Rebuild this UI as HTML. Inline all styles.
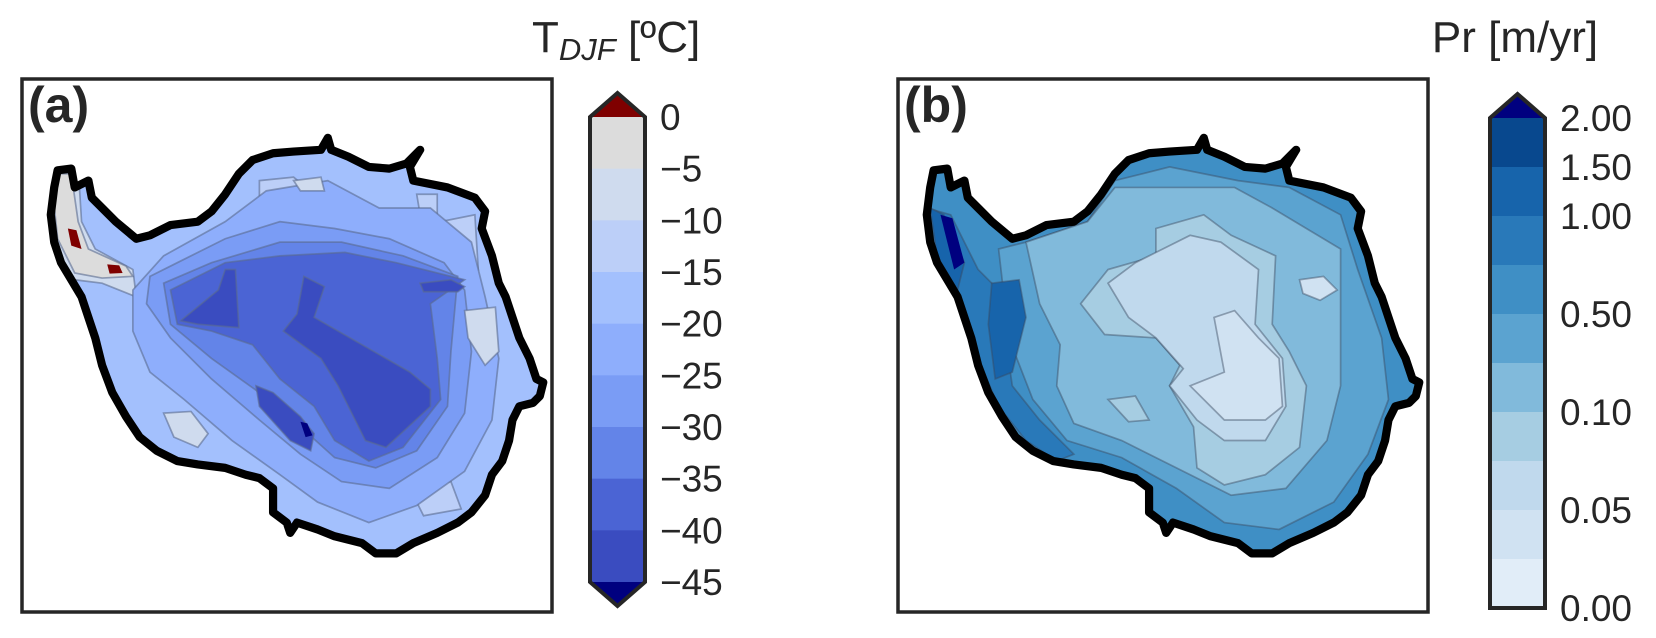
<!DOCTYPE html>
<html><head><meta charset="utf-8">
<style>
html,body{margin:0;padding:0;background:#fff;}
svg{display:block;font-family:"Liberation Sans",sans-serif;}
</style></head>
<body>
<svg id="fig" width="1656" height="638" viewBox="0 0 1656 638" xmlns="http://www.w3.org/2000/svg">
<defs>
<path id="coast" d="M110,270 L150,265 L160,320 L200,300 L210,350 L240,380 L280,420 L340,470 L380,460 L440,430 L520,420 L560,390 L600,340 L640,280 L680,240 L740,220 L800,215 L880,210 L900,175 L910,210 L960,230 L1020,260 L1080,265 L1130,250 L1170,210 L1140,260 L1150,300 L1250,320 L1330,350 L1360,390 L1350,440 L1380,520 L1400,600 L1420,640 L1440,700 L1460,760 L1490,820 L1510,880 L1530,890 L1520,930 L1500,950 L1460,960 L1440,1000 L1430,1060 L1410,1120 L1380,1160 L1360,1220 L1320,1270 L1280,1300 L1220,1330 L1150,1360 L1100,1390 L1040,1390 L1000,1360 L920,1340 L870,1320 L810,1300 L790,1330 L780,1300 L740,1270 L740,1200 L700,1170 L660,1160 L600,1140 L520,1130 L460,1120 L400,1090 L350,1050 L310,990 L270,920 L240,840 L220,760 L200,700 L180,640 L150,590 L120,540 L100,480 L90,400 L100,320 Z"/>
<clipPath id="clipc"><use href="#coast"/></clipPath>
</defs>

<!-- Panel A -->
<g>
<rect x="22" y="79" width="530" height="533" fill="#fff" stroke="#262626" stroke-width="3.5"/>
<g transform="translate(20,78) scale(0.342)">
<g clip-path="url(#clipc)" stroke="#5a6b90" stroke-opacity="0.6" stroke-width="5">
<use href="#coast" fill="#a3c0fd" stroke="none"/>
<path d="M60,250 L170,260 L180,420 L220,500 L330,560 L340,640 L240,600 L160,590 L100,500 Z" fill="#cfdbee"/>
<path d="M90,280 L150,280 L170,420 L200,500 L310,550 L330,580 L240,585 L160,570 L110,470 Z" fill="#dcdcdc"/>
<path d="M140,440 L165,445 L180,500 L150,490 Z" fill="#7f0000" stroke="none"/>
<path d="M255,545 L290,548 L300,570 L262,572 Z" fill="#7f0000" stroke="none"/>
<path d="M700,300 L800,290 L860,340 L980,360 L1000,390 L760,400 L700,380 Z" fill="#bccff8"/>
<path d="M1160,340 L1220,340 L1220,400 L1170,400 Z" fill="#bccff8"/>
<path d="M1230,420 L1330,400 L1340,560 L1260,520 Z" fill="#bccff8"/>
<path d="M1140,1200 L1260,1180 L1290,1260 L1180,1280 Z" fill="#bccff8"/>
<path d="M330,620 L420,520 L600,420 L720,330 L900,300 L1050,380 L1200,380 L1320,480 L1360,640 L1400,820 L1380,1000 L1300,1150 L1160,1250 L1020,1300 L870,1240 L760,1160 L620,1060 L480,940 L380,860 L330,740 Z" fill="#8eaefc"/>
<path d="M380,580 L460,540 L600,470 L760,420 L920,440 L1080,470 L1240,540 L1300,620 L1320,800 L1300,980 L1220,1110 L1080,1200 L940,1180 L820,1100 L700,1000 L560,880 L440,760 L370,660 Z" fill="#7a9cf5"/>
<path d="M420,600 L560,540 L760,480 L940,480 L1120,520 L1280,580 L1260,800 L1250,960 L1160,1090 L1040,1140 L920,1110 L820,1020 L700,920 L560,820 L440,720 Z" fill="#6384e8"/>
<path d="M440,620 L600,540 L760,520 L950,510 L1100,540 L1300,590 L1200,660 L1220,820 L1230,940 L1120,1080 L1020,1120 L920,1060 L860,960 L760,880 L680,780 L560,740 L460,720 Z" fill="#4b64d4"/>
<path d="M470,710 L580,620 L600,560 L630,560 L640,730 L520,720 Z" fill="#3a4cc0"/>
<path d="M770,740 L810,690 L830,580 L890,610 L860,700 L1000,780 L1140,860 L1200,910 L1200,960 L1070,1080 L1010,1060 L930,900 L880,820 Z" fill="#3a4cc0"/>
<path d="M690,900 L740,920 L820,990 L860,1040 L850,1090 L790,1060 L700,960 Z" fill="#3a4cc0"/>
<path d="M820,1005 L840,1010 L855,1045 L835,1050 Z" fill="#00007f" stroke="none"/>
<path d="M1170,600 L1260,590 L1300,610 L1280,625 L1180,625 Z" fill="#3a4cc0"/>
<path d="M420,980 L500,975 L550,1040 L520,1080 L450,1050 Z" fill="#cfdbee"/>
<path d="M800,300 L880,290 L890,330 L820,330 Z" fill="#cfdbee"/>
<path d="M1300,680 L1390,670 L1400,800 L1360,840 L1310,760 Z" fill="#cfdbee"/>
</g>
<use href="#coast" fill="none" stroke="#000" stroke-width="24" stroke-linejoin="round"/>
</g>
<text x="28" y="122" font-size="50" font-weight="bold" fill="#262626">(a)</text>
</g>

<!-- Panel B -->
<g>
<rect x="898" y="79" width="530" height="533" fill="#fff" stroke="#262626" stroke-width="3.5"/>
<g transform="translate(896,78) scale(0.342)">
<g clip-path="url(#clipc)" stroke="#3a4a60" stroke-opacity="0.45" stroke-width="5">
<use href="#coast" fill="#3f8fc5" stroke="none"/>
<path d="M300,500 L380,480 L560,420 L640,300 L800,260 L1000,300 L1150,320 L1300,400 L1350,560 L1420,760 L1440,940 L1380,1100 L1280,1240 L1120,1320 L960,1300 L820,1200 L660,1110 L500,1060 L400,940 L330,760 Z" fill="#5ba3d0"/>
<path d="M90,380 L160,400 L240,560 L300,620 L340,900 L420,1000 L520,1100 L470,1120 L380,1060 L300,960 L240,820 L190,660 L120,540 Z" fill="#2979b9"/>
<path d="M100,380 L140,400 L200,540 L180,620 L120,520 Z" fill="#1764ab"/>
<path d="M130,400 L165,410 L200,540 L170,560 Z" fill="#00007f" stroke="none"/>
<path d="M280,600 L360,590 L380,700 L340,860 L290,880 L270,720 Z" fill="#1764ab"/>
<path d="M380,480 L560,420 L640,320 L800,320 L990,320 L1100,380 L1300,500 L1300,900 L1260,1060 L1140,1200 L980,1220 L820,1140 L660,1060 L520,1010 L470,900 L480,780 L420,660 Z" fill="#81badb"/>
<path d="M540,660 L620,560 L760,520 L760,440 L900,400 L980,460 L1110,520 L1100,720 L1150,800 L1200,900 L1180,1080 L1080,1160 L960,1190 L880,1140 L870,1020 L800,900 L830,840 L760,760 L610,750 Z" fill="#a6cde2"/>
<path d="M620,600 L700,540 L780,500 L860,460 L950,480 L1060,560 L1050,720 L1130,820 L1140,960 L1080,1060 L960,1060 L880,1000 L800,900 L840,850 L760,760 L680,700 Z" fill="#c0d9ed"/>
<path d="M930,700 L990,680 L1060,760 L1120,820 L1130,960 L1080,1000 L960,1000 L860,900 L960,860 Z" fill="#d0e2f2"/>
<path d="M620,940 L700,930 L740,1000 L680,1005 Z" fill="#a6cde2"/>
<path d="M1180,590 L1250,580 L1290,620 L1240,650 L1190,630 Z" fill="#d0e2f2"/>
</g>
<use href="#coast" fill="none" stroke="#000" stroke-width="24" stroke-linejoin="round"/>
</g>
<text x="904" y="122" font-size="50" font-weight="bold" fill="#262626">(b)</text>
</g>

<!-- Titles -->
<text x="532" y="52" font-size="44" fill="#262626">T<tspan font-size="31" font-style="italic" dy="8">DJF</tspan><tspan dy="-8"> [ºC]</tspan></text>
<text x="1515" y="52" font-size="44" fill="#262626" text-anchor="middle">Pr [m/yr]</text>

<g id="cbA"></g>
<g id="cbB"></g>
</svg>
<script>
const tLevels = [0,-5,-10,-15,-20,-25,-30,-35,-40,-45];
const tColors = ["#dcdcdc","#cfdbee","#bccff8","#a3c0fd","#8eaefc","#7a9cf5","#6384e8","#4b64d4","#3a4cc0"];
const tTickLabels = ["0","−5","−10","−15","−20","−25","−30","−35","−40","−45"];
const pLevels = [2.0,1.5,1.0,0.75,0.5,0.3,0.1,0.075,0.05,0.025,0.0];
const pColors = ["#08488e","#1764ab","#2979b9","#3f8fc5","#5ba3d0","#81badb","#a6cde2","#c0d9ed","#d0e2f2","#e1edf8"];
const pTickValues = [2.0,1.5,1.0,0.5,0.1,0.05,0.0];
const pTickLabels = ["2.00","1.50","1.00","0.50","0.10","0.05","0.00"];
const NS="http://www.w3.org/2000/svg";
function mk(tag,attrs,parent){const e=document.createElementNS(NS,tag);for(const k in attrs)e.setAttribute(k,attrs[k]);parent.appendChild(e);return e;}
function drawBar(g,x0,x1,top,bottom,levels,colors,ticks,labels,topC,botC,labelX){
  const n=levels.length-1, h=(bottom-top)/n;
  const yIdx=i=>top+i*h;
  colors.forEach((c,i)=>{
    const r=mk('rect',{x:x0,y:yIdx(i),width:x1-x0,height:h+0.5,fill:c},g);
    
    
  });
  const xm=(x0+x1)/2, tri=24;
  const t1=mk('polygon',{points:`${x0},${top} ${xm},${top-tri} ${x1},${top}`,fill:topC},g);
  
  
  if(botC){const t2=mk('polygon',{points:`${x0},${bottom} ${xm},${bottom+tri} ${x1},${bottom}`,fill:botC},g);
  
  }
  const pts = botC ? `${x0},${top} ${xm},${top-tri} ${x1},${top} ${x1},${bottom} ${xm},${bottom+tri} ${x0},${bottom}` : `${x0},${top} ${xm},${top-tri} ${x1},${top} ${x1},${bottom} ${x0},${bottom}`;
  const o=mk('polygon',{points:pts,fill:'none',stroke:'#262626','stroke-width':4},g);
  
  
  ticks.forEach((v,i)=>{
    const idx=levels.indexOf(v);
    const t=mk('text',{x:labelX,y:yIdx(idx)+13,'font-size':37,fill:'#262626'},g);
    t.textContent=labels[i];
    
    
  });
}
drawBar(document.getElementById('cbA'),590,645,117,582,tLevels,tColors,tLevels,tTickLabels,"#7f0000","#00007f",660);
drawBar(document.getElementById('cbB'),1490,1545,118,608,pLevels,pColors,pTickValues,pTickLabels,"#00007f",null,1560);
</script>
</body></html>
